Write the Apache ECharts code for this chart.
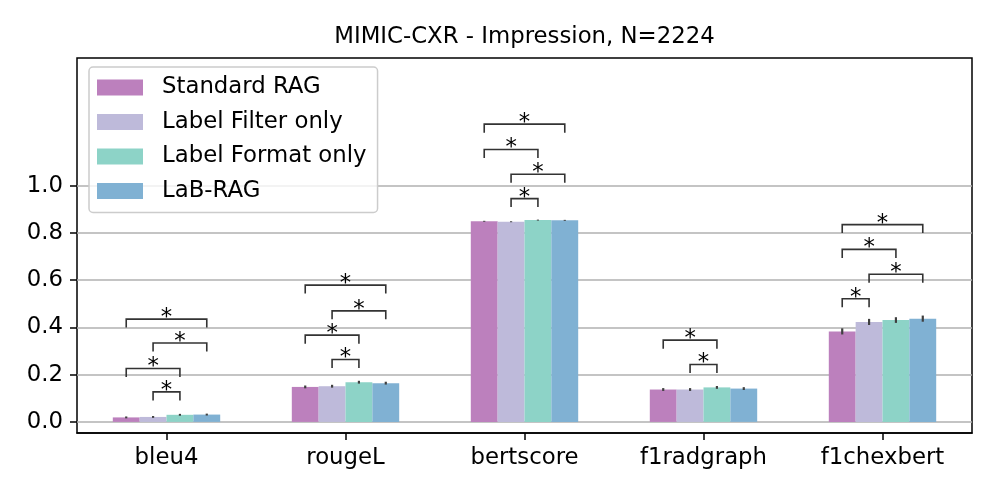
<!DOCTYPE html>
<html>
<head>
<meta charset="utf-8">
<script src="https://cdn.jsdelivr.net/npm/echarts@6/dist/echarts.min.js"></script>
<style>html,body{margin:0;padding:0;background:#fff}#c{width:997px;height:498px}</style>
</head>
<body>
<div id="c"></div>
<script>
const categories = ['bleu4', 'rougeL', 'bertscore', 'f1radgraph', 'f1chexbert'];
const methods = ['Standard RAG', 'Label Filter only', 'Label Format only', 'LaB-RAG'];
const standardRag = [0.019, 0.148, 0.849, 0.137, 0.383];
const labelFilterOnly = [0.021, 0.151, 0.847, 0.137, 0.423];
const labelFormatOnly = [0.030, 0.168, 0.854, 0.146, 0.431];
const labRag = [0.031, 0.164, 0.853, 0.141, 0.437];
const errStandardRag = [0.004, 0.006, 0.002, 0.006, 0.013];
const errLabelFilterOnly = [0.004, 0.006, 0.002, 0.006, 0.013];
const errLabelFormatOnly = [0.004, 0.006, 0.002, 0.006, 0.012];
const errLabRag = [0.004, 0.006, 0.002, 0.006, 0.013];
// [category index, from bar, to bar, bracket height]
const brackets = [
  [0, 0, 3, 0.435], [0, 1, 3, 0.334], [0, 0, 2, 0.226], [0, 1, 2, 0.127],
  [1, 0, 3, 0.579], [1, 1, 3, 0.470], [1, 0, 2, 0.367], [1, 1, 2, 0.264],
  [2, 0, 3, 1.260], [2, 0, 2, 1.153], [2, 1, 3, 1.048], [2, 1, 2, 0.945],
  [3, 0, 2, 0.346], [3, 1, 2, 0.243],
  [4, 0, 3, 0.835], [4, 0, 2, 0.730], [4, 1, 3, 0.625], [4, 0, 1, 0.521]
];
const yTicks = [0.0, 0.2, 0.4, 0.6, 0.8, 1.0];

const colors = ['#bc80bd', '#bebada', '#8dd3c7', '#80b1d3'];
const values = [standardRag, labelFilterOnly, labelFormatOnly, labRag];
const errs = [errStandardRag, errLabelFilterOnly, errLabelFormatOnly, errLabRag];
const FONT = 'DejaVu Sans';
const FS = 22.8;
const GAP = 0.40; // barCategoryGap
function barOffset(i, band) {
  const w = (1 - GAP) / 4;
  return (-(1 - GAP) / 2 + w * (i + 0.5)) * band;
}

const errData = [];
values.forEach((arr, s) => arr.forEach((v, c) => errData.push([c, s, v, errs[s][c]])));

const YMIN = -0.047, YMAX = 1.54;
const gridTop = 58, gridBottom = 65, chartH = 498;
const plotH = chartH - gridTop - gridBottom;
const pxPerUnit = plotH / (YMAX - YMIN);
const y0 = gridTop + YMAX * pxPerUnit;
const tickTop = y0 - yTicks[yTicks.length - 1] * pxPerUnit;

const chart = echarts.init(document.getElementById('c'));
chart.setOption({
  animation: false,
  backgroundColor: '#fff',
  title: {
    text: 'MIMIC-CXR - Impression, N=2224',
    left: 524.5, top: 26, padding: 0, textAlign: 'center',
    textStyle: { fontFamily: FONT, fontSize: FS, fontWeight: 'normal', color: '#000' }
  },
  legend: {
    data: methods,
    orient: 'vertical',
    left: 89, top: 67,
    itemWidth: 46, itemHeight: 16, itemGap: 11.5,
    icon: 'rect',
    padding: [9, 11, 10, 8],
    backgroundColor: 'rgba(255,255,255,0.8)',
    borderColor: '#cccccc', borderWidth: 1.5, borderRadius: 4,
    textStyle: { fontFamily: FONT, fontSize: FS, color: '#000', lineHeight: 22, padding: [0, 0, 0, 14] },
    z: 10
  },
  grid: [
    { left: 77, right: 25, top: gridTop, bottom: gridBottom, show: true, borderColor: '#000', borderWidth: 1.5, backgroundColor: 'transparent' },
    { left: 77, right: 25, top: tickTop, bottom: chartH - y0 }
  ],
  xAxis: [
    {
      type: 'category', data: categories, gridIndex: 0, position: 'bottom',
      axisLine: { show: true, onZero: false, lineStyle: { color: '#000', width: 1.5 } },
      axisTick: { show: true, alignWithLabel: true, length: 7, lineStyle: { color: '#000', width: 1.5 } },
      axisLabel: { fontFamily: FONT, fontSize: FS, color: '#000', margin: 14 }
    },
    {
      type: 'category', data: categories, gridIndex: 1, show: false
    }
  ],
  yAxis: [
    {
      type: 'value', min: YMIN, max: YMAX, gridIndex: 0,
      axisLine: { show: false }, axisTick: { show: false }, axisLabel: { show: false }, splitLine: { show: false }
    },
    {
      type: 'value', min: 0, max: 1, interval: 0.2, gridIndex: 1,
      axisLine: { show: false },
      axisTick: { show: true, length: 7, lineStyle: { color: '#000', width: 1.5 } },
      axisLabel: { fontFamily: FONT, fontSize: FS, color: '#000', margin: 14, formatter: v => v.toFixed(1) },
      splitLine: { show: true, lineStyle: { color: '#b0b0b0', width: 1.5 } }
    }
  ],
  series: [
    ...methods.map((m, i) => ({
      name: m, type: 'bar', data: values[i], xAxisIndex: 0, yAxisIndex: 0,
      itemStyle: { color: colors[i] },
      barGap: '0%', barCategoryGap: (GAP * 100) + '%', z: 2
    })),
    {
      type: 'custom', xAxisIndex: 0, yAxisIndex: 0, data: errData, encode: { x: 0, y: 2 }, z: 5, clip: false,
      renderItem: function (params, api) {
        const c = api.value(0), s = api.value(1), v = api.value(2), e = api.value(3);
        const band = api.size([1, 0])[0];
        const top = api.coord([c, v + e]);
        const bot = api.coord([c, v - e]);
        const x = top[0] + barOffset(s, band);
        return { type: 'line', shape: { x1: x, y1: top[1], x2: x, y2: bot[1] }, style: { stroke: '#3f3f3f', lineWidth: 2.2 } };
      }
    },
    {
      type: 'custom', xAxisIndex: 0, yAxisIndex: 0, data: brackets, encode: { x: 0, y: 3 }, z: 5, clip: false,
      renderItem: function (params, api) {
        const c = api.value(0), a = api.value(1), b = api.value(2), h = api.value(3);
        const band = api.size([1, 0])[0];
        const p = api.coord([c, h]);
        const xa = p[0] + barOffset(a, band), xb = p[0] + barOffset(b, band);
        const leg = 8.5;
        return {
          type: 'group',
          children: [
            { type: 'polyline', shape: { points: [[xa, p[1] + leg], [xa, p[1]], [xb, p[1]], [xb, p[1] + leg]] },
              style: { stroke: '#333', lineWidth: 1.6, fill: null } },
            { type: 'text', style: { text: '*', x: (xa + xb) / 2, y: p[1] - 1, align: 'center', verticalAlign: 'middle',
              fontFamily: FONT, fontSize: FS, fill: '#000' } }
          ]
        };
      }
    }
  ]
});
</script>
</body>
</html>
